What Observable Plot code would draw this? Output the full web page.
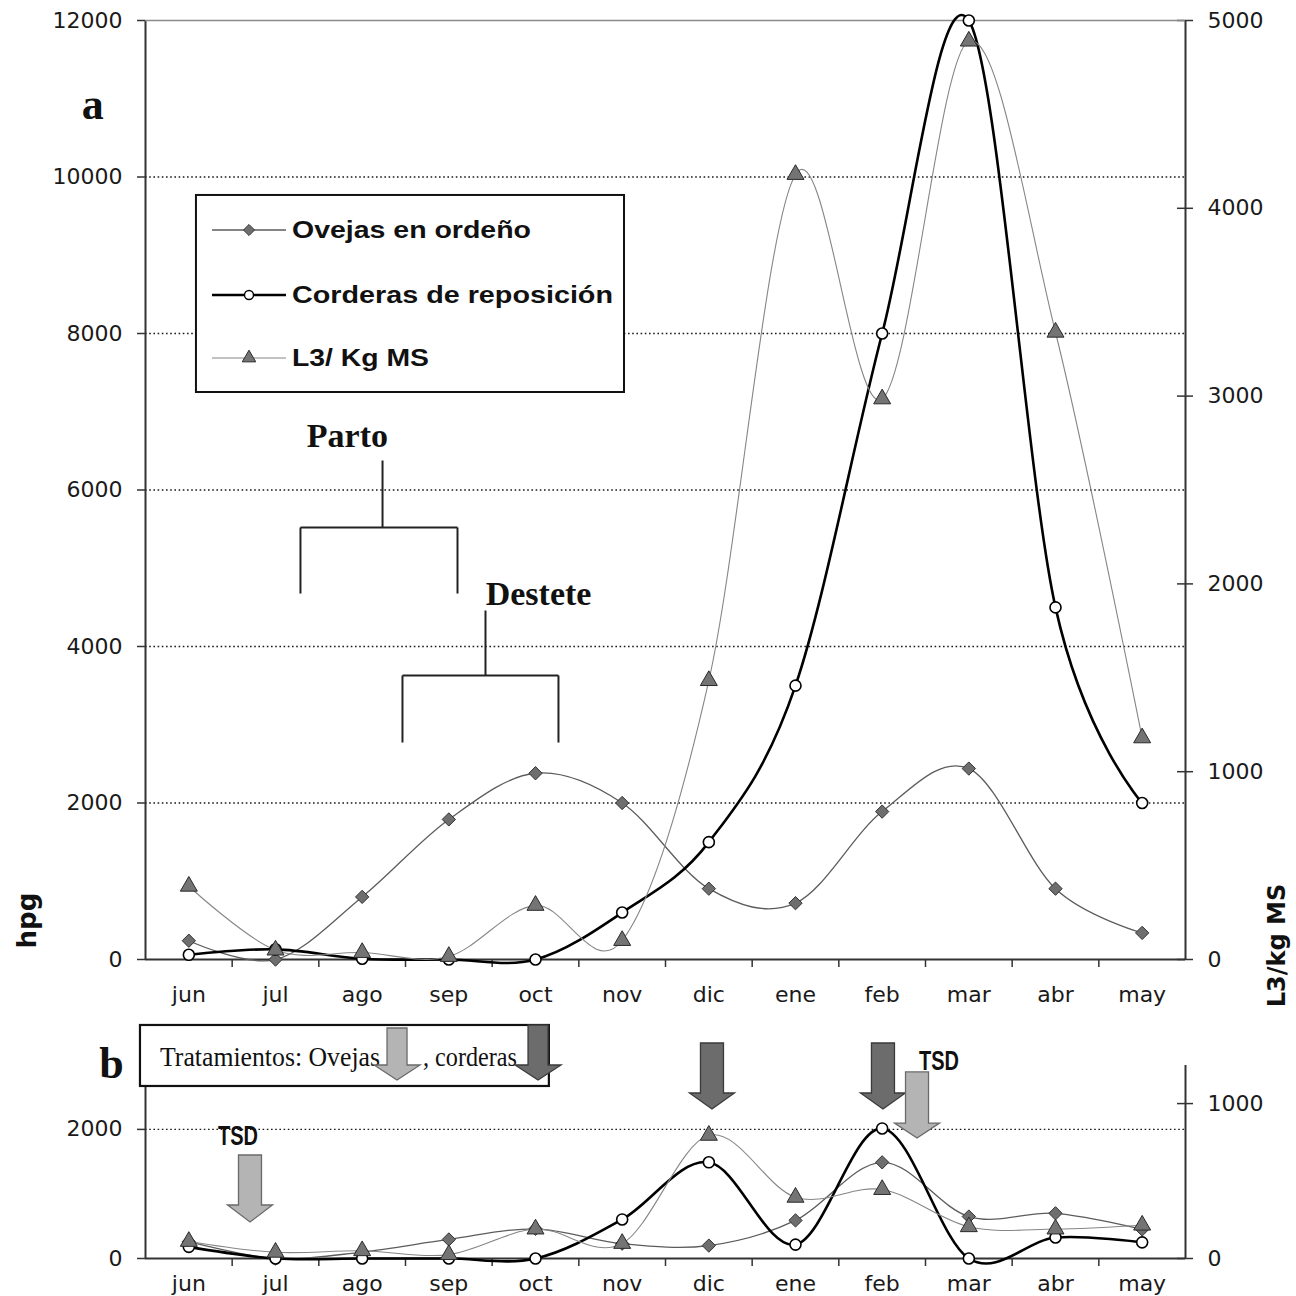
<!DOCTYPE html>
<html>
<head>
<meta charset="utf-8">
<script src="https://cdn.jsdelivr.net/npm/d3@7"></script>
<script src="https://cdn.jsdelivr.net/npm/@observablehq/plot@0.6"></script>
<style>
  body { margin: 0; background: #fff; }
  #chart { position: relative; width: 1296px; height: 1296px; background: #fff; overflow: hidden; }
  #chart svg { display: block; }
</style>
</head>
<body>
<div id="chart"></div>
<script>
// ---------- data ----------
const months = ["jun","jul","ago","sep","oct","nov","dic","ene","feb","mar","abr","may"];

// panel a (hpg on left axis, L3/kg MS on right axis)
const ovejasA   = [240, 0, 800, 1790, 2380, 2000, 905, 720, 1890, 2440, 905, 340];
const corderasA = [60, 130, 10, 0, 0, 600, 1500, 3500, 8000, 12000, 4500, 2000];
const l3A       = [390, 50, 37, 16, 288, 101, 1485, 4180, 2985, 4890, 3340, 1180];

// panel b
const ovejasB   = [260, 0, 100, 295, 460, 230, 200, 590, 1490, 650, 700, 450];
const corderasB = [180, 0, 0, 0, 0, 605, 1490, 215, 2015, 0, 325, 250];
const l3B       = [110, 40, 50, 25, 190, 97, 795, 395, 445, 205, 190, 215];

// axis ticks
const leftTicksA  = [0, 2000, 4000, 6000, 8000, 10000, 12000];
const gridA       = [2000, 4000, 6000, 8000, 10000];
const rightTicksA = [0, 1000, 2000, 3000, 4000, 5000];
const leftTicksB  = [0, 2000];
const gridB       = [2000];
const rightTicksB = [0, 1000];

const legendLabels = ["Ovejas en ordeño", "Corderas de reposición", "L3/ Kg MS"];
const K = 2.4; // right-axis unit -> left-axis unit

// ---------- annotations (data coordinates) ----------
const bracketsA = [
  {x1: 2.735, y1: 6377, x2: 2.735, y2: 5521},
  {x1: 1.788, y1: 5521, x2: 3.6,   y2: 5521},
  {x1: 1.788, y1: 5521, x2: 1.788, y2: 4677},
  {x1: 3.6,   y1: 5521, x2: 3.6,   y2: 4677},
  {x1: 3.923, y1: 4460, x2: 3.923, y2: 3629},
  {x1: 2.965, y1: 3629, x2: 4.765, y2: 3629},
  {x1: 2.965, y1: 3629, x2: 2.965, y2: 2773},
  {x1: 4.765, y1: 3629, x2: 4.765, y2: 2773}
];
const bracketLabelsA = [
  {x: 2.33, y: 6684, text: "Parto"},
  {x: 4.535, y: 4665, text: "Destete"}
];
const arrowsB = [
  {x: 1.2115, top: 1596, base: 821, tip: 558, kind: "light"},
  {x: 6.542, top: 3331, base: 2556, tip: 2308, kind: "dark"},
  {x: 8.515, top: 3331, base: 2556, tip: 2308, kind: "dark"},
  {x: 8.908, top: 2882, base: 2091, tip: 1859, kind: "light"},
  {x: 2.908, top: 3563, base: 2990, tip: 2758, kind: "light", box: true},
  {x: 4.535, top: 3610, base: 2990, tip: 2758, kind: "dark", box: true}
];
const tsdLabels = [{x: 1.073, y: 1906}, {x: 9.162, y: 3068}];

// ---------- helpers ----------
const fSans = "'DejaVu Sans', sans-serif";
const fArial = "'Liberation Sans', Arial, sans-serif";
const fSerif = "'Liberation Serif', 'Times New Roman', serif";

const rows = (vals, k = 1) => vals.map((v, i) => ({x: i + 0.5, month: months[i], v: v * k}));

const lineStyles = {
  ov: {stroke: "#5c5c5c", strokeWidth: 1.3},
  co: {stroke: "#000", strokeWidth: 2.6},
  l3: {stroke: "#868686", strokeWidth: 1.1}
};
const dotStyles = {
  ov: {symbol: "diamond2", r: 6, fill: "#6e6e6e", stroke: "#333", strokeWidth: 1},
  co: {r: 5.5, fill: "#fff", stroke: "#000", strokeWidth: 1.6},
  l3: {symbol: "triangle", r: 6.3, fill: "#747474", stroke: "#2a2a2a", strokeWidth: 1}
};

function seriesMarks(ov, co, l3) {
  const c = {x: "x", y: "v", curve: "cardinal", tension: 0};
  return [
    Plot.line(rows(ov), {...c, ...lineStyles.ov}),
    Plot.line(rows(co), {...c, ...lineStyles.co}),
    Plot.line(rows(l3, K), {...c, ...lineStyles.l3}),
    Plot.dot(rows(ov), {x: "x", y: "v", ...dotStyles.ov}),
    Plot.dot(rows(co), {x: "x", y: "v", ...dotStyles.co}),
    Plot.dot(rows(l3, K), {x: "x", y: "v", ...dotStyles.l3})
  ];
}

function axisMarks(leftTicks, rightTicks, grid, leftTop, rightTop, pad) {
  return [
    Plot.ruleY(grid, {x1: 0, x2: 12, stroke: "#1a1a1a", strokeWidth: 1.4, strokeDasharray: "1.6,2.6"}),
    Plot.axisX({ticks: months.map((m, i) => i + 0.5), tickFormat: d => months[Math.round(d - 0.5)],
      tickSize: 0, tickPadding: pad, fontSize: 22, label: null}),
    Plot.axisY({ticks: leftTicks, tickFormat: d => String(d), tickSize: 0, tickPadding: 23, fontSize: 22, label: null}),
    Plot.axisY({anchor: "right", ticks: rightTicks.map(t => t * K), tickFormat: d => String(Math.round(d / K)),
      tickSize: 0, tickPadding: 22, fontSize: 22, label: null}),
    Plot.ruleX([0], {y1: 0, y2: leftTop, stroke: "#333", strokeWidth: 2}),
    Plot.ruleX([12], {y1: 0, y2: rightTop, stroke: "#333", strokeWidth: 2}),
    Plot.ruleY(leftTicks, {x1: 0, x2: 0, insetLeft: -8, stroke: "#333", strokeWidth: 1.5}),
    Plot.ruleY(rightTicks.map(t => t * K), {x1: 12, x2: 12, insetLeft: -8, insetRight: -8, stroke: "#333", strokeWidth: 1.5}),
    Plot.ruleX(d3.range(1, 12), {y1: 0, y2: 0, insetBottom: -8, stroke: "#333", strokeWidth: 1.5}),
    Plot.ruleY([0], {x1: 0, x2: 12, stroke: "#333", strokeWidth: 2})
  ];
}

function legendA(index, scales) {
  const {x, y} = scales;
  const g = d3.create("svg:g").attr("text-anchor", "start");
  g.append("rect")
    .attr("x", x(0.588)).attr("y", y(9764))
    .attr("width", x(5.527) - x(0.588)).attr("height", y(7246) - y(9764))
    .attr("fill", "#fff").attr("stroke", "#111").attr("stroke-width", 2);
  const ys = [9316, 8486, 7681];
  const lens = [239, 321, 137];
  const keys = ["ov", "co", "l3"];
  keys.forEach((k, i) => {
    const yy = y(ys[i]);
    g.append("line").attr("x1", x(0.773)).attr("x2", x(1.627)).attr("y1", yy).attr("y2", yy)
      .attr("stroke", lineStyles[k].stroke).attr("stroke-width", lineStyles[k].strokeWidth);
    const cx = x(1.2);
    const ds = dotStyles[k];
    if (k === "co") {
      g.append("circle").attr("cx", cx).attr("cy", yy).attr("r", 4.5)
        .attr("fill", ds.fill).attr("stroke", ds.stroke).attr("stroke-width", 1.4);
    } else {
      const sym = k === "ov" ? d3.symbolDiamond2 : d3.symbolTriangle;
      g.append("path").attr("d", d3.symbol(sym, Math.PI * 5 * 5)()).attr("transform", `translate(${cx},${yy})`)
        .attr("fill", ds.fill).attr("stroke", ds.stroke).attr("stroke-width", 1);
    }
    g.append("text").attr("x", x(1.696)).attr("y", yy).attr("dy", "0.36em")
      .attr("text-anchor", "start")
      .attr("font-family", fArial).attr("font-weight", "bold").attr("font-size", 23)
      .attr("fill", "#111")
      .attr("textLength", lens[i]).attr("lengthAdjust", "spacingAndGlyphs")
      .text(legendLabels[i]);
  });
  return g.node();
}

function boxB(index, scales) {
  const {x, y} = scales;
  const g = d3.create("svg:g").attr("text-anchor", "start");
  g.append("rect")
    .attr("x", x(-0.058)).attr("y", y(3610))
    .attr("width", x(4.66) - x(-0.058)).attr("height", y(2665) - y(3610))
    .attr("fill", "#fff").attr("stroke", "#111").attr("stroke-width", 2.2);
  const ty = y(3114);
  g.append("text").attr("x", x(0.173)).attr("y", ty).attr("dy", "0.33em").attr("text-anchor", "start")
    .attr("font-family", fSerif).attr("font-size", 28).attr("fill", "#111")
    .attr("textLength", 220).attr("lengthAdjust", "spacingAndGlyphs").text("Tratamientos: Ovejas");
  g.append("text").attr("x", x(3.208)).attr("y", ty).attr("dy", "0.33em").attr("text-anchor", "start")
    .attr("font-family", fSerif).attr("font-size", 28).attr("fill", "#111")
    .attr("textLength", 94).attr("lengthAdjust", "spacingAndGlyphs").text(", corderas");
  return g.node();
}

function arrowsMark(index, scales) {
  const {x, y} = scales;
  const g = d3.create("svg:g");
  for (const a of arrowsB) {
    const cx = x(a.x), yt = y(a.top), yb = y(a.base), yp = y(a.tip);
    const sw = a.box ? 10 : 11.5, hw = a.box ? 23 : 22.5;
    const pts = [[cx - sw, yt], [cx + sw, yt], [cx + sw, yb], [cx + hw, yb], [cx, yp], [cx - hw, yb], [cx - sw, yb]];
    g.append("path").attr("d", "M" + pts.map(p => p.join(",")).join("L") + "Z")
      .attr("fill", a.kind === "light" ? "#b4b4b4" : "#6c6c6c")
      .attr("stroke", a.kind === "light" ? "#6a6a6a" : "#3a3a3a").attr("stroke-width", 1.3);
  }
  for (const t of tsdLabels) {
    g.append("text").attr("x", x(t.x)).attr("y", y(t.y)).attr("dy", "0.36em")
      .attr("text-anchor", "middle").attr("font-family", fArial).attr("font-weight", "bold")
      .attr("font-size", 27).attr("fill", "#111")
      .attr("textLength", 40).attr("lengthAdjust", "spacingAndGlyphs").text("TSD");
  }
  return g.node();
}

const baseStyle = {fontFamily: fSans, fontSize: "22px", color: "#1a1a1a", background: "transparent", overflow: "visible"};

// ---------- panel a ----------
const plotA = Plot.plot({
  width: 1296, height: 1010,
  marginLeft: 145, marginRight: 111, marginTop: 20, marginBottom: 51,
  style: baseStyle,
  x: {domain: [0, 12]},
  y: {domain: [0, 12000]},
  marks: [
    ...axisMarks(leftTicksA, rightTicksA, gridA, 12000, 12000, 27),
    Plot.ruleY([12000], {x1: 0, x2: 12, stroke: "#8a8a8a", strokeWidth: 1.3}),
    legendA,
    Plot.link(bracketsA, {x1: "x1", y1: "y1", x2: "x2", y2: "y2", stroke: "#222", strokeWidth: 2}),
    Plot.text(bracketLabelsA, {x: "x", y: "y", text: "text", fontFamily: fSerif, fontWeight: "bold", fontSize: 34, fill: "#111"}),
    ...seriesMarks(ovejasA, corderasA, l3A),
    Plot.text(["a"], {x: -0.61, y: 10927, text: d => d, fontFamily: fSerif, fontWeight: "bold", fontSize: 44, fill: "#111"}),
    Plot.text(["hpg"], {x: -1.36, y: 498, text: d => d, rotate: -90, fontFamily: fSans, fontWeight: "bold", fontSize: 26, fill: "#111"}),
    Plot.text(["L3/kg MS"], {x: 13.06, y: 179, text: d => d, rotate: -90, fontFamily: fSans, fontWeight: "bold", fontSize: 24, fill: "#111"})
  ]
});

// ---------- panel b ----------
const plotB = Plot.plot({
  width: 1296, height: 286,
  marginLeft: 145, marginRight: 111, marginTop: 55, marginBottom: 38,
  style: baseStyle,
  x: {domain: [0, 12]},
  y: {domain: [0, 2990]},
  marks: [
    ...axisMarks(leftTicksB, rightTicksB, gridB, 2665, 2990, 17),
    ...seriesMarks(ovejasB, corderasB, l3B),
    boxB,
    arrowsMark,
    Plot.text(["b"], {x: -0.392, y: 3021, text: d => d, fontFamily: fSerif, fontWeight: "bold", fontSize: 44, fill: "#111"})
  ]
});

const root = document.getElementById("chart");
root.append(plotA, plotB);
</script>
</body>
</html>
